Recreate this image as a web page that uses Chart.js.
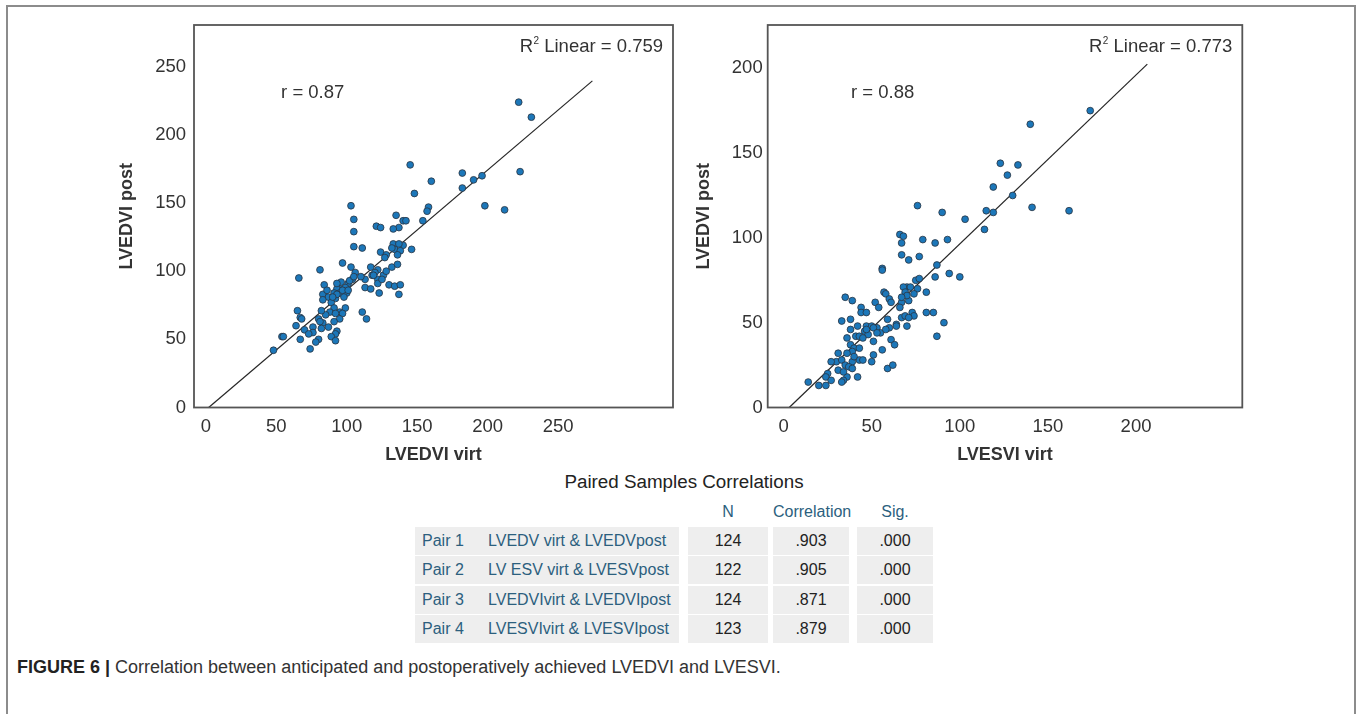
<!DOCTYPE html>
<html><head><meta charset="utf-8">
<script src="https://cdn.jsdelivr.net/npm/chart.js@4.4.1/dist/chart.umd.min.js"></script>
<style>
html,body{margin:0;padding:0;background:#fff;}
body{width:1357px;height:714px;position:relative;overflow:hidden;font-family:"Liberation Sans",Arial,sans-serif;}
#frame{position:absolute;left:6px;top:5px;width:1350px;height:730px;border:2px solid #8c8c8c;border-bottom:none;box-sizing:border-box;}
canvas{position:absolute;top:0;}
#c1{left:100px;}
#c2{left:690px;}
#ttl{position:absolute;left:484px;width:400px;top:470px;text-align:center;font-size:18.8px;color:#222;line-height:24px;}
.cell{position:absolute;box-sizing:border-box;font-size:16px;line-height:20px;white-space:nowrap;}
.hd{color:#2c5f7e;text-align:center;}
.bg{background:#eeeeee;}
.num{color:#222;text-align:center;}
.lab{color:#2c5f7e;}
#cap{position:absolute;left:17px;top:656px;font-size:18px;color:#333;white-space:nowrap;line-height:22px;}
#cap b{color:#222;}
</style></head>
<body>
<div id="frame"></div>
<canvas id="c1" width="590" height="466"></canvas>
<canvas id="c2" width="570" height="466"></canvas>
<div id="ttl">Paired Samples Correlations</div>
<div id="table"></div>
<div id="cap"><b>FIGURE 6 |</b> Correlation between anticipated and postoperatively achieved LVEDVI and LVESVI.</div>
<script>
// ---------- data: left panel (LVEDVI) ----------
const lvedviVirt = [222,231,223,212,198,196,190,182,182,160,145,148,158,157,154,140,142,135,137,133,121,124,140,133,134,138,136,146,124,128,127,132,136,117,118,122,126,122,122,130,134,138,123,137,113,117,113,110,106,103,111,105,105,105,103,97,81,66,96,104,101,99,95,93,91,95,100,84,83,87,83,92,98,89,91,99,88,85,82,95,97,95,91,80,83,87,82,76,76,65,67,68,64,70,93,92,89,92,80,78,74,67,54,55,48,111,114,120,93,97,101,92,81,90,102,119,125,132,137,93,86,73,105,128];
const lvedviPost = [224,213,173,145,148,170,167,172,161,166,178,157,147,144,137,137,137,141,132,131,133,132,119,120,116,115,112,116,114,112,110,103,105,103,97,101,97,94,91,90,89,90,84,83,88,87,94,96,99,103,117,118,129,138,148,106,101,95,92,94,91,88,87,87,84,84,84,90,83,81,79,80,81,77,73,73,70,68,71,70,69,65,63,65,62,59,58,59,55,71,66,65,60,57,56,54,52,49,50,48,43,50,52,52,42,70,65,99,83,86,86,69,63,81,93,97,94,117,120,91,86,54,96,100];
const lvedviFitX = [2, 274.3];
const lvedviFitY = [0, 239.6];

// ---------- data: right panel (LVESVI) ----------
const lvesviVirt = [174,140,123,133,127,119,130,141,162,115,119,103,114,76,90,66,68,67,79,86,93,67,71,77,87,56,56,86,94,100,75,77,76,70,68,69,74,81,71,67,66,57,58,60,61,52,54,35,39,44,44,47,67,64,70,73,74,81,85,91,87,59,60,64,33,38,42,47,50,53,46,38,41,36,48,55,51,61,63,56,38,40,39,43,31,51,30,27,33,39,43,45,50,35,37,39,31,25,24,36,42,34,33,27,14,20,24,59,62,47,43,40,72,70,67,36,51,53,69,71,45,58,34];
const lvesviPost = [175,167,144,143,137,130,125,118,116,116,115,111,105,119,115,102,101,97,99,97,99,90,87,89,84,82,81,77,79,77,75,76,70,71,71,68,67,68,63,62,59,68,67,64,62,62,59,65,63,59,56,56,53,49,48,56,54,56,56,50,42,52,47,48,51,52,48,48,48,47,45,46,42,41,43,44,39,40,37,34,37,35,33,35,32,31,27,27,28,27,28,28,27,25,24,23,22,20,18,18,18,16,15,16,15,13,13,23,25,46,42,30,71,66,65,32,47,44,54,53,41,46,21];
const lvesviFitX = [3.2, 206.4];
const lvesviFitY = [0, 202.4];

// ---------- ticks / labels ----------
const leftXTicks = [0,50,100,150,200,250];
const leftYTicks = [0,50,100,150,200,250];
const rightXTicks = [0,50,100,150,200];
const rightYTicks = [0,50,100,150,200];

// ---------- table ----------
const pairLabels = ['Pair 1','Pair 2','Pair 3','Pair 4'];
const pairNames = ['LVEDV virt & LVEDVpost','LV ESV virt & LVESVpost','LVEDVIvirt & LVEDVIpost','LVESVIvirt & LVESVIpost'];
const nValues = ['124','122','124','123'];
const corrValues = ['.903','.905','.871','.879'];
const sigValues = ['.000','.000','.000','.000'];
const headers = ['N','Correlation','Sig.'];

const FONT = '"Liberation Sans", Arial, sans-serif';
Chart.defaults.font.family = FONT;
Chart.defaults.color = '#333';

const boxPlugin = {
  id:'box',
  afterDraw(chart){
    const {ctx, chartArea:a} = chart;
    ctx.save(); ctx.strokeStyle='#555'; ctx.lineWidth=1.8;
    ctx.strokeRect(a.left, a.top, a.right-a.left, a.bottom-a.top);
    ctx.restore();
  }
};
const notePlugin = {
  id:'notes',
  afterDraw(chart, args, o){
    if(!o || !o.r) return;
    const {ctx, chartArea:a, scales:{x,y}} = chart;
    ctx.save();
    ctx.fillStyle='#333'; ctx.textBaseline='middle'; ctx.textAlign='left';
    const big = '18.5px '+FONT, small = '10px '+FONT;
    ctx.font = big;
    ctx.fillText(o.r, x.getPixelForValue(o.rPos[0]), y.getPixelForValue(o.rPos[1]));
    const main = ' Linear = ' + o.r2;
    const wMain = ctx.measureText(main).width, wR = ctx.measureText('R').width;
    ctx.font = small; const w2 = ctx.measureText('2').width;
    const right = a.right - 10, cy = a.top + 22;
    const xs = right - wMain - w2 - wR - 0.5;
    ctx.font = big; ctx.fillText('R', xs, cy);
    ctx.font = small; ctx.fillText('2', xs + wR + 0.5, cy - 6);
    ctx.font = big; ctx.fillText(main, xs + wR + w2 + 0.5, cy);
    ctx.restore();
  }
};

function pts(xs, ys){ return xs.map((v,i)=>({x:v, y:ys[i]})); }

function makeChart(id, c){
  return new Chart(document.getElementById(id), {
    type:'scatter',
    data:{datasets:[
      {data: pts(c.fitX, c.fitY), showLine:true, borderColor:'#262626', borderWidth:1.2, pointRadius:0, order:2},
      {data: pts(c.xs, c.ys), backgroundColor:'#1c77b9', borderColor:'#2a3440', borderWidth:0.8, pointRadius:3.4, order:1}
    ]},
    options:{
      responsive:false, animation:false, devicePixelRatio:1,
      layout:{padding:{top:25, right:c.padRight, left:0, bottom:0}},
      plugins:{legend:{display:false}, tooltip:{enabled:false}, notes:c.notes},
      scales:{
        x:{type:'linear', min:c.xMin, max:c.xMax,
          grid:{display:false, drawTicks:false}, border:{display:false},
          ticks:{stepSize:50, includeBounds:false, padding:8, color:'#333', font:{size:18.5}},
          afterBuildTicks: s => { s.ticks = c.xTicks.map(v=>({value:v})); },
          afterFit: s => { s.height = 58.5; },
          title:{display:true, text:c.xTitle, color:'#333', font:{size:18, weight:'bold'}, padding:{top:0,bottom:0}}
        },
        y:{type:'linear', min:0, max:c.yMax,
          grid:{display:false, drawTicks:false}, border:{display:false},
          ticks:{stepSize:50, includeBounds:false, padding:c.yPad, color:'#333', font:{size:18.5}},
          afterBuildTicks: s => { s.ticks = c.yTicks.map(v=>({value:v})); },
          afterFit: s => { s.width = c.yWidth; },
          title:{display:true, text:c.yTitle, color:'#333', font:{size:18, weight:'bold'}, padding:{top:c.yTitlePad,bottom:0}}
        }
      }
    },
    plugins:[boxPlugin, notePlugin]
  });
}

makeChart('c1', {
  xs:lvedviVirt, ys:lvedviPost, fitX:lvedviFitX, fitY:lvedviFitY,
  xMin:-8.4, xMax:331.5, yMax:280.6, xTicks:leftXTicks, yTicks:leftYTicks,
  padRight:17, yWidth:94, yPad:8, yTitlePad:16.2,
  xTitle:'LVEDVI virt', yTitle:'LVEDVI post',
  notes:{r:'r = 0.87', rPos:[53.4,230.8], r2:'0.759'}
});
makeChart('c2', {
  xs:lvesviVirt, ys:lvesviPost, fitX:lvesviFitX, fitY:lvesviFitY,
  xMin:-9.0, xMax:260.3, yMax:225.5, xTicks:rightXTicks, yTicks:rightYTicks,
  padRight:17.7, yWidth:77.7, yPad:5, yTitlePad:3.2,
  xTitle:'LVESVI virt', yTitle:'LVEDVI post',
  notes:{r:'r = 0.88', rPos:[38.3,185.6], r2:'0.773'}
});

// ---------- table build ----------
const table = document.getElementById('table');
const cols = [{l:415,w:264},{l:688,w:80},{l:773,w:76},{l:857,w:76}];
function cell(cls, l, t, w, h, html){
  const d = document.createElement('div');
  d.className = 'cell ' + cls;
  d.style.left = l+'px'; d.style.top = t+'px'; d.style.width = w+'px'; d.style.height = h+'px';
  d.style.lineHeight = h+'px';
  d.innerHTML = html; table.appendChild(d); return d;
}
headers.forEach((h,i)=> cell('hd', cols[i+1].l, 500, cols[i+1].w, 24, h));
pairLabels.forEach((p,r)=>{
  const top = 527 + r*29.3, h = 28;
  const lab = cell('bg lab', cols[0].l, top, cols[0].w, h, '');
  const a = document.createElement('span'); a.textContent = p; a.style.position='absolute'; a.style.left='7px'; lab.appendChild(a);
  const b = document.createElement('span'); b.textContent = pairNames[r]; b.style.position='absolute'; b.style.left='73px'; lab.appendChild(b);
  cell('bg num', cols[1].l, top, cols[1].w, h, nValues[r]);
  cell('bg num', cols[2].l, top, cols[2].w, h, corrValues[r]);
  cell('bg num', cols[3].l, top, cols[3].w, h, sigValues[r]);
});
</script>
</body></html>
